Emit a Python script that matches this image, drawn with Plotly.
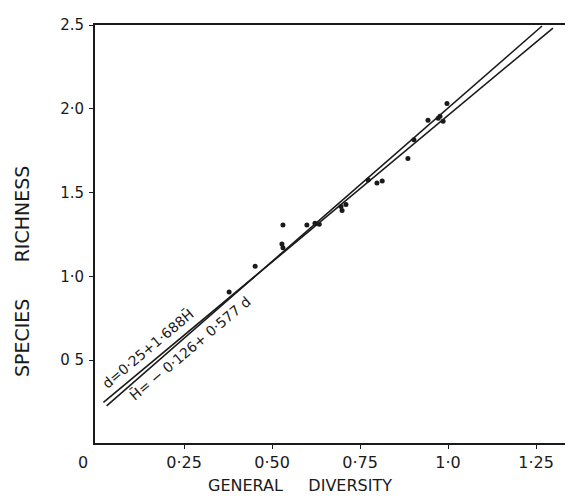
import plotly.graph_objects as go

# Data
general_diversity = [0.378, 0.452, 0.531, 0.528, 0.531, 0.599, 0.622, 0.634, 0.696, 0.699,
                     0.710, 0.773, 0.798, 0.813, 0.886, 0.903, 0.943, 0.972, 0.986, 0.977, 0.997]
species_richness = [0.907, 1.060, 1.306, 1.194, 1.171, 1.306, 1.317, 1.311, 1.417, 1.393,
                    1.429, 1.575, 1.557, 1.569, 1.704, 1.815, 1.932, 1.944, 1.926, 1.955, 2.032]

# Regression lines (end points)
line_d_x = [0.021, 1.298]
line_d_y = [0.248, 2.482]
line_h_x = [0.030, 1.267]
line_h_y = [0.228, 2.494]

x_tickvals = [0.25, 0.5, 0.75, 1.0, 1.25]
x_ticktext = ["0·25", "0·50", "0·75", "1·0", "1·25"]
y_tickvals = [0.5, 1.0, 1.5, 2.0, 2.5]
y_ticktext = ["0 5", "1·0", "1.5", "2·0", "2.5"]

label_d = "d=0·25+1·688H\u0304"
label_h = "H\u0304= − 0·126+ 0·577 d"

FONT = "DejaVu Sans"
INK = "#1a1a1a"

fig = go.Figure()
fig.add_trace(go.Scatter(x=line_d_x, y=line_d_y, mode="lines",
                         line=dict(color=INK, width=1.6), showlegend=False, hoverinfo="skip"))
fig.add_trace(go.Scatter(x=line_h_x, y=line_h_y, mode="lines",
                         line=dict(color=INK, width=1.6), showlegend=False, hoverinfo="skip"))
fig.add_trace(go.Scatter(x=general_diversity, y=species_richness, mode="markers",
                         marker=dict(color=INK, size=5), showlegend=False))

fig.update_layout(
    width=573, height=496,
    margin=dict(l=87, r=8, t=9, b=61),
    paper_bgcolor="white", plot_bgcolor="white",
    font=dict(family=FONT, color=INK, size=15),
    xaxis=dict(range=[-0.003, 1.355], tickvals=x_tickvals, ticktext=x_ticktext,
               showgrid=False, zeroline=False, showline=True, linecolor=INK, linewidth=2,
               mirror=True, ticks="outside", ticklen=4, tickcolor=INK,
               tickfont=dict(size=16, family=FONT), ticklabelstandoff=0),
    yaxis=dict(range=[0.006, 2.5], tickvals=y_tickvals, ticktext=y_ticktext,
               showgrid=False, zeroline=False, showline=True, linecolor=INK, linewidth=2,
               mirror=False, ticks="outside", ticklen=4, tickcolor=INK,
               tickfont=dict(size=15, family=FONT), ticklabelstandoff=2),
    annotations=[
        dict(text="0", x=0, y=0, xref="x", yref="paper", xanchor="center", yanchor="middle",
             xshift=-13, yshift=-19,
             showarrow=False, font=dict(size=16, family=FONT, color=INK)),
        dict(text="GENERAL     DIVERSITY", x=0.429, y=-0.101, xref="paper", yref="paper",
             xanchor="center", yanchor="middle",
             showarrow=False, font=dict(size=16, family=FONT, color=INK)),
        dict(text="SPECIES      RICHNESS", x=-0.153, y=0.411, xref="paper", yref="paper",
             xanchor="center", yanchor="middle",
             textangle=-90, showarrow=False, font=dict(size=19, family=FONT, color=INK)),
        dict(text=label_d, x=0.148, y=0.568, xref="x", yref="y", textangle=-40,
             xanchor="center", yanchor="middle",
             showarrow=False, font=dict(size=14, family=FONT, color=INK)),
        dict(text=label_h, x=0.267, y=0.568, xref="x", yref="y", textangle=-40,
             xanchor="center", yanchor="middle",
             showarrow=False, font=dict(size=14, family=FONT, color=INK)),
    ],
)

fig.write_html("out.html")
